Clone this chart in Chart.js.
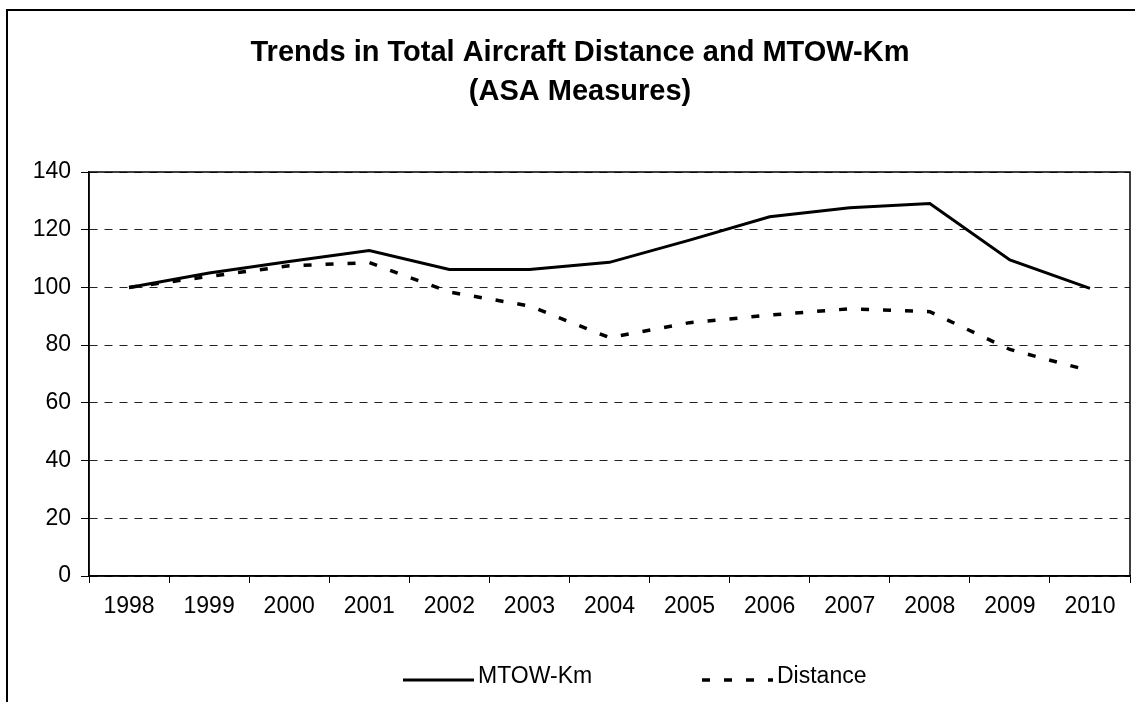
<!DOCTYPE html>
<html>
<head>
<meta charset="utf-8">
<script src="https://cdn.jsdelivr.net/npm/chart.js@4.4.0/dist/chart.umd.min.js"></script>
<style>
  html, body { margin: 0; padding: 0; background: #fff; }
</style>
</head>
<body>
<canvas id="trend" width="1135" height="702"></canvas>
<script>
// values (index, 1998 = 100)
const years = ["1998", "1999", "2000", "2001", "2002", "2003", "2004", "2005", "2006", "2007", "2008", "2009", "2010"];
const mtowKm = [100, 105, 109, 112.8, 106.2, 106.2, 108.7, 116.4, 124.5, 127.6, 129.1, 109.5, 99.7];
const distance = [100, 103.8, 107.5, 108.6, 98.4, 93.6, 82.6, 87.8, 90.4, 92.6, 91.6, 78.5, 71.1];
const titleLines = ["Trends in Total Aircraft Distance and MTOW-Km", "(ASA Measures)"];

const FONT = "Arial, 'Liberation Sans', sans-serif";

// frame, plot border, title and legend drawn by hand - the built-in ones can't be placed like Excel's
const excelLook = {
    id: "excelLook",
    beforeDraw(chart) {
        const ctx = chart.ctx;
        ctx.save();
        ctx.fillStyle = "#fff";
        ctx.fillRect(0, 0, chart.width, chart.height);
        ctx.strokeStyle = "#000";
        ctx.lineWidth = 2;
        ctx.strokeRect(7, 10, chart.width + 20, chart.height + 20);
        ctx.restore();
    },
    afterDraw(chart) {
        const ctx = chart.ctx;
        const a = chart.chartArea;
        ctx.save();
        ctx.strokeStyle = "#000";
        ctx.lineWidth = 1.5;
        ctx.strokeRect(a.left, a.top, a.right - a.left, a.bottom - a.top);

        ctx.fillStyle = "#000";
        ctx.textAlign = "center";
        ctx.textBaseline = "alphabetic";
        ctx.font = "bold 29px " + FONT;
        ctx.fillText(titleLines[0], 580, 61);
        ctx.fillText(titleLines[1], 580, 100);

        // legend
        const items = [
            { x: 403, ds: chart.data.datasets[0] },
            { x: 702, ds: chart.data.datasets[1] },
        ];
        ctx.font = "23px " + FONT;
        ctx.textAlign = "left";
        ctx.textBaseline = "middle";
        items.forEach(it => {
            ctx.beginPath();
            ctx.setLineDash(it.ds.borderDash || []);
            ctx.lineWidth = it.ds.borderWidth;
            ctx.moveTo(it.x, 680);
            ctx.lineTo(it.x + 71, 680);
            ctx.stroke();
            ctx.setLineDash([]);
            ctx.fillText(it.ds.label, it.x + 75, 677);
        });
        ctx.restore();
    },
};

const lineConfig = {
    type: "line",
    data: {
        labels: years,
        datasets: [
            {
                label: "MTOW-Km",
                data: mtowKm,
                borderColor: "#000",
                borderWidth: 3,
                pointRadius: 0,
                tension: 0,
            },
            {
                label: "Distance",
                data: distance,
                borderColor: "#000",
                borderWidth: 3.5,
                borderDash: [8, 14],
                pointRadius: 0,
                tension: 0,
            },
        ],
    },
    options: {
        responsive: false,
        animation: false,
        devicePixelRatio: 1,
        layout: { padding: { top: 172, right: 5, left: 0, bottom: 0 } },
        plugins: {
            legend: { display: false },
            title: { display: false },
            tooltip: { enabled: false },
        },
        scales: {
            x: {
                offset: true,
                grid: {
                    offset: true,
                    drawOnChartArea: false,
                    tickLength: 7,
                    tickColor: "#000",
                },
                border: { color: "#000", width: 1.5 },
                ticks: { color: "#000", font: { family: FONT, size: 23 }, padding: 10, maxRotation: 0 },
                afterFit(scale) { scale.height = 126; },
            },
            y: {
                min: 0,
                max: 140,
                grid: {
                    color: "#222",
                    lineWidth: 1,
                    tickLength: 8,
                    tickColor: "#000",
                    tickBorderDash: [],
                },
                border: { color: "#000", width: 1.5, dash: [8, 7] },
                ticks: { stepSize: 20, color: "#000", font: { family: FONT, size: 23 }, padding: 10 },
                afterFit(scale) { scale.width = 89; },
            },
        },
    },
    plugins: [excelLook],
};

const trendCtx = document.getElementById("trend");
window.trendChart = new Chart(trendCtx, lineConfig);
</script>
</body>
</html>
